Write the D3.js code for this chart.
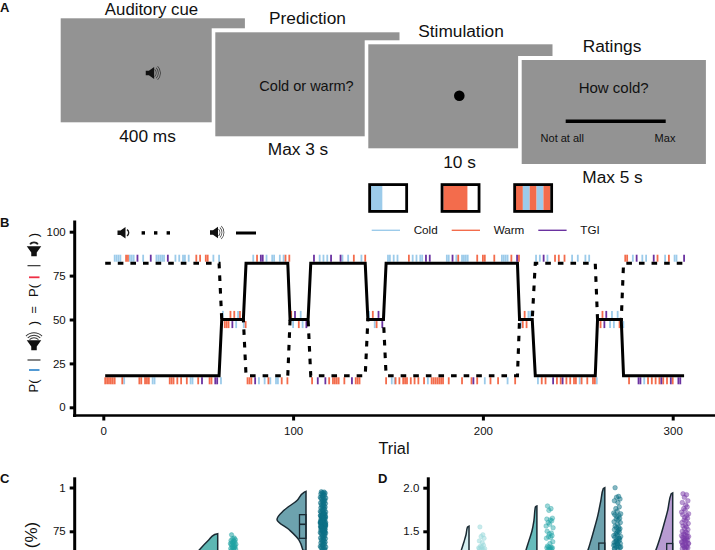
<!DOCTYPE html>
<html><head><meta charset="utf-8">
<script src="https://cdn.jsdelivr.net/npm/d3@7"></script>
<style>html,body{margin:0;padding:0;background:#fff;overflow:hidden}svg{display:block}text{font-family:"Liberation Sans",Arial,sans-serif;fill:#111}</style>
</head><body><div id="c"></div>
<script>
// ---- Panel A
const screenLabels = ["Auditory cue","Prediction","Stimulation","Ratings"];
const durations = ["400 ms","Max 3 s","10 s","Max 5 s"];
// ---- Panel B
const legendNames = ["Cold","Warm","TGI"];
const xTicks = [0,100,200,300];
const yTicksB = [0,25,50,75,100];
const phaseTrials = [1,61,62.4,73.8,75.2,97.2,98.4,107.9,109.3,138,139.4,147.6,149,218.2,219.3,226,227.6,259.2,260.4,272.9,274.1,306];
const solidLevels = [18,18,50,50,82,82,50,50,82,82,50,50,82,82,50,50,18,18,50,50,18,18];
const dashedLevels = [82,82,50,50,18,18,50,50,18,18,50,50,18,18,50,50,82,82,50,50,82,82];
const coldHigh = [6,7,8,9,14,15,16,21,28,29,30,31,32,38,40,42,43,45,58,61,63,71,79,86,89,90,93,95,104,114,116,118,126,129,136,140,148,150,151,153,155,163,165,167,168,181,182,186,189,190,191,192,210,211,212,213,224,225,228,230,234,247,250,254,256,268,271,279,284,286,296,301,302];
const warmHigh = [12,13,49,51,54,55,67,69,72,81,96,98,99,108,132,138,142,161,187,197,200,201,206,215,219,222,238,240,243,263,275,276,292,298];
const tgiHigh = [18,25,34,83,84,101,111,120,125,145,170,172,184,218,232,265,281,290,306];
const coldLow = [11,26,27,46,47,62,70,74,82,85,88,91,92,100,105,143,152,153.5,171,201,213,220,226,229,251,260,267,269,274,285];
const warmLow = [1,2,3,4,5,6,10,19,20,22,23,24,35,36,37,39,41,44,50,56,57,64,65,66,75,76,77,78,87,94,97,103,110,119,121,122,123,124,127,133,134,135,144,149,154,156,158,159,160,162,164,166,169,173,174,175,176,177,178,179,182,189,194,197,204,208,217,221,223,231,233,239,241,244,246,248,249,252,255,258,259,262,272,277,287,289,291,293,295,297,300];
const tgiLow = [52,59,60,68,80,107,113,117,131,147,195,237,242,264,282,283,294,299,303,304];
// ---- Panel C
const accTicks = [100,75];
const accTickLabels = ["1","75"];
const violinC1Val = [73.6,73.2,70,64,60];
const violinC1Den = [0,3,9,19,25];
const violinC2Val = [97.8,97.2,92.6,87,81.8,76,70,64];
const violinC2Den = [0,2,9,22,29,17,7,3];
const pointsC1 = [73,71.2,70.8,70.2,69.8,69.5,69,68.7,68.3,68,67.6,67.2,66.9,66.6,66.2,65.9,65.5,65.2,64.8,64.4,64];
const pointsC2 = [97.6,97.4,97,96.8,96.4,96,95.6,95.2,94.8,94.4,94,93.6,93.2,92.8,92.4,92,91.6,91.2,90.8,90.4,90,89.6,89.2,88.8,88.4,88,87.6,87.2,86.8,86.4,86,85.7,85.4,85.1,84.8,84.5,84.2,83.9,83.6,83.3,83,82.7,82.4,82.1,81.8,81.5,81.2,80.9,80.6,80.3,80,79.7,79.4,79.1,78.8,78.5,78.2,77.9,77.6,77.3,77,76.7,76.4,76.1,75.8,75.5,75.2,74.9,74.6,74.3,74,73.6,73.2,72.8,72.4,72,71.6,71.2,70.8,70.4,70,69.6,69.2,68.8,68.4,68,67.6,67.2,66.8,66.4,66,65.6,65.2,64.8,64.4,64,85,84,83,82,81,80,79,78,77,76,75,81.4,80.8,79.6,78.6,77.8,76.8,75.6,74.4,83.4,82.6,80.2,79.2];
const boxC2 = [84.5,71];
const medianC2 = 79;
// ---- Panel D
const ratioTicks = [2,1.5];
const violinD1Val = [1.56,1.55,1.46,1.38,1.29,1.2];
const violinD1Den = [0,1.5,3,5,7.5,10];
const violinD2Val = [1.79,1.78,1.62,1.5,1.39,1.28,1.2];
const violinD2Den = [0,1.5,3,5,8,11,13];
const violinD3Val = [2,1.99,1.85,1.68,1.51,1.39,1.28,1.2];
const violinD3Den = [0,1.5,4,7,11,14,17,20];
const violinD4Val = [1.94,1.93,1.74,1.57,1.45,1.28,1.2];
const violinD4Den = [0,1.5,5,9,12,17,20];
const pointsD1 = [1.55,1.46,1.44,1.42,1.39,1.37,1.34,1.33,1.32,1.31,1.3,1.3,1.29,1.29];
const pointsD2 = [1.79,1.76,1.74,1.65,1.64,1.63,1.62,1.6,1.58,1.56,1.54,1.5,1.48,1.47,1.45,1.44,1.43,1.42,1.38,1.36,1.33,1.32,1.32,1.31,1.31,1.3,1.3,1.29,1.29];
const pointsD3 = [2,1.9,1.89,1.87,1.85,1.83,1.78,1.76,1.73,1.71,1.7,1.69,1.68,1.67,1.65,1.64,1.63,1.61,1.6,1.58,1.56,1.55,1.54,1.53,1.52,1.5,1.49,1.47,1.46,1.45,1.44,1.43,1.42,1.41,1.4,1.39,1.38,1.37,1.36,1.35,1.34,1.33,1.32,1.31,1.3,1.29,1.42,1.38,1.36,1.34,1.32,1.3,1.52,1.48];
const pointsD4 = [1.93,1.92,1.89,1.85,1.83,1.8,1.78,1.76,1.74,1.72,1.7,1.69,1.68,1.66,1.65,1.63,1.62,1.6,1.59,1.57,1.56,1.55,1.53,1.52,1.5,1.49,1.48,1.47,1.46,1.45,1.44,1.43,1.42,1.41,1.4,1.39,1.38,1.37,1.36,1.35,1.34,1.33,1.32,1.31,1.3,1.29,1.44,1.42,1.4,1.38,1.36,1.34,1.32,1.3];
const jitter = [-3,2,-1,4,-4,1,3,-2,0,-5,5,-3.5,2.5,-0.5,3.5,-1.5,1.5,-4.5,4.5,0.5];

const COLD="#9ccbea",WARM="#f36c4c",TGI="#6a32a0",GREY="#939393";
const svg=d3.select("#c").append("svg").attr("width",715).attr("height",550);
const txt=(x,y,s,size,anchor="middle",weight="normal",par=svg)=>par.append("text").attr("x",x).attr("y",y).attr("font-size",size).attr("text-anchor",anchor).attr("font-weight",weight).text(s);

function speaker(cx,cy,scale,rot,waves,dome){
  const g=svg.append("g").attr("transform",`translate(${cx},${cy}) rotate(${rot}) scale(${scale})`);
  g.append("path").attr("d","M-5,-2.2 H-2 L3,-5.8 V5.8 L-2,2.2 H-5 Z").attr("fill","#111");
  if(waves)[5,7,9].forEach(r=>g.append("path").attr("d",d3.arc()({innerRadius:r-.35,outerRadius:r+.35,startAngle:Math.PI/2-.8,endAngle:Math.PI/2+.8})).attr("fill","#333"));
  if(dome)g.append("path").attr("d",d3.arc()({innerRadius:3,outerRadius:4.4,startAngle:Math.PI/2-1,endAngle:Math.PI/2+1})).attr("transform","translate(2.5,0)").attr("fill","#222");
}

// ---- Panel A
const screens=[[60.7,18.3],[215.3,32.3],[368.3,44.3],[521.7,60]];
screens.forEach(([x,y],i)=>{
  if(i>0)svg.append("rect").attr("x",x-3.6).attr("y",y-4).attr("width",188).attr("height",108).attr("fill","#fff");
  svg.append("rect").attr("x",x).attr("y",y).attr("width",184.2).attr("height",104).attr("fill",GREY);
});
[[151.5,15.4,0],[307.5,24,1],[461,37,2],[612,52,3]].forEach(([x,y,i])=>txt(x,y,screenLabels[i],i===0?16.8:17.3));
[[147.5,142,0],[298,155,1],[459.6,167.7,2],[612.5,183,3]].forEach(([x,y,i])=>txt(x,y,durations[i],17.3));
speaker(151,73,1.05,0,true,false);
txt(306.5,90.7,"Cold or warm?",14.5);
svg.append("circle").attr("cx",459.3).attr("cy",95.7).attr("r",5.3).attr("fill","#000");
txt(613.7,93.3,"How cold?",15);
svg.append("line").attr("x1",565.7).attr("x2",665.7).attr("y1",121.3).attr("y2",121.3).attr("stroke","#000").attr("stroke-width",3.4);
txt(562.3,142,"Not at all",11);txt(665,142,"Max",11);

// stimulation thermode boxes
const boxes=[[368.3,[[0,.33,COLD]]],[440.7,[[0,.7,WARM]]],[513.3,[[0,.2,WARM],[.2,.2,COLD],[.4,.2,WARM],[.6,.2,COLD],[.8,.2,WARM]]]];
boxes.forEach(([x,parts])=>{
  const bw=39.7,bh=29.5,inW=bw-5.4;
  svg.append("rect").attr("x",x+1.35).attr("y",184.6).attr("width",bw-2.7).attr("height",bh-2.7).attr("fill","#fff");
  parts.forEach(([a,w,c])=>svg.append("rect").attr("x",x+2.7+a*inW).attr("y",185.5).attr("width",w*inW).attr("height",bh-4.7).attr("fill",c));
  svg.append("rect").attr("x",x+1.35).attr("y",184.6).attr("width",bw-2.7).attr("height",bh-2.7).attr("fill","none").attr("stroke","#000").attr("stroke-width",2.8);
});

// ---- Panel B
const xB=d3.scaleLinear().domain([0,300]).range([103.3,672.7]);
const yB=d3.scaleLinear().domain([0,100]).range([407.3,231.7]);
const axisLeft=(y,x,ticks,fmt,top,bottom)=>{
  const g=svg.append("g").attr("transform",`translate(${x},0)`).call(d3.axisLeft(y).tickValues(ticks).tickFormat(fmt).tickSize(5).tickPadding(4).tickSizeOuter(0));
  g.select(".domain").remove();
  g.selectAll(".tick line").attr("stroke","#000").attr("stroke-width",3);
  g.selectAll(".tick text").attr("font-size",11.5).attr("font-family",'"Liberation Sans",Arial,sans-serif').attr("fill","#111");
  svg.append("line").attr("x1",x).attr("x2",x).attr("y1",top).attr("y2",bottom).attr("stroke","#000").attr("stroke-width",3);
};
axisLeft(yB,74.7,yTicksB,d3.format("d"),220.5,417);
const gx=svg.append("g").attr("transform","translate(0,415.5)").call(d3.axisBottom(xB).tickValues(xTicks).tickFormat(d3.format("d")).tickSize(5).tickPadding(6).tickSizeOuter(0));
gx.select(".domain").remove();
gx.selectAll(".tick line").attr("stroke","#000").attr("stroke-width",3);
gx.selectAll(".tick text").attr("font-size",11.5).attr("font-family",'"Liberation Sans",Arial,sans-serif').attr("fill","#111");
svg.append("line").attr("x1",73).attr("x2",715).attr("y1",415.5).attr("y2",415.5).attr("stroke","#000").attr("stroke-width",2.4);
txt(394,454,"Trial",16.3);

// rug ticks sit on whichever of the two probability lines is upper or lower at that trial
const interp=(lv,t)=>{const i=Math.max(0,d3.bisectRight(phaseTrials,t)-1);return lv[i];};
const rug=(trials,color,high)=>svg.append("g").selectAll("line").data(trials).join("line")
  .attr("x1",d=>xB(d)).attr("x2",d=>xB(d))
  .attr("y1",d=>{const v=high?Math.max(interp(solidLevels,d),interp(dashedLevels,d)):Math.min(interp(solidLevels,d),interp(dashedLevels,d));return yB(v)+(high?-1.6:1.6);})
  .attr("y2",d=>{const v=high?Math.max(interp(solidLevels,d),interp(dashedLevels,d)):Math.min(interp(solidLevels,d),interp(dashedLevels,d));return yB(v)+(high?-8.6:8.6);})
  .attr("stroke",color).attr("stroke-width",1.8);
rug(coldHigh,COLD,true);rug(coldLow,COLD,false);
rug(warmHigh,WARM,true);rug(warmLow,WARM,false);
rug(tgiHigh,TGI,true);rug(tgiLow,TGI,false);

const line=lv=>d3.line().x(d=>xB(d)).y((d,i)=>yB(lv[i]))(phaseTrials);
svg.append("path").attr("d",line(dashedLevels)).attr("fill","none").attr("stroke","#000").attr("stroke-width",3.1).attr("stroke-dasharray","5.6 7");
svg.append("path").attr("d",line(solidLevels)).attr("fill","none").attr("stroke","#000").attr("stroke-width",3);

// cue key
speaker(122.5,232.8,1,0,false,true);
[143.3,155.7,168.3].forEach(x=>svg.append("rect").attr("x",x-1.7).attr("y",231.2).attr("width",3.4).attr("height",3.4).attr("fill","#000"));
speaker(215,232.5,1,0,true,false);
svg.append("line").attr("x1",236).attr("x2",256).attr("y1",233).attr("y2",233).attr("stroke","#000").attr("stroke-width",3);

// colour key
[[371.7,COLD,425.7],[451.7,WARM,509],[538.3,TGI,590]].forEach(([x,c,tx],i)=>{
  svg.append("line").attr("x1",x).attr("x2",x+28.3).attr("y1",230.3).attr("y2",230.3).attr("stroke",c).attr("stroke-width",1.4);
  txt(tx,234.3,legendNames[i],11.7);
});

// rotated y label
const rotText=(y,s,size=13)=>svg.append("text").attr("transform",`translate(37.5,${y}) rotate(-90)`).attr("font-size",size).attr("text-anchor","middle").text(s);
rotText(386,"P(");rotText(323,")");rotText(310,"=");rotText(290.5,"P(");rotText(235,")");
const bar=(y,x0,x1,c,w)=>svg.append("line").attr("x1",x0).attr("x2",x1).attr("y1",y).attr("y2",y).attr("stroke",c).attr("stroke-width",w);
bar(360,27.5,40.5,"#222",1.1);bar(370,29,39.5,"#3f8fd0",1.8);bar(265.7,27.5,40.5,"#222",1.1);bar(277.3,29,39.5,"#ef2f45",1.8);
speaker(34,344,1.25,-90,true,false);speaker(34,250,1.25,-90,false,true);

// panel letters
[["A",0,11.8],["B",0,227],["C",0,483],["D",378,483]].forEach(([s,x,y])=>txt(x,y,s,13,"start","bold"));

// ---- Panel C
const yC=d3.scaleLinear().domain([75,100]).range([531.3,487.5]);
axisLeft(yC,74.7,accTicks,(d,i)=>accTickLabels[accTicks.indexOf(d)],477.3,550);
svg.append("text").attr("transform","translate(37,535) rotate(-90)").attr("font-size",17).attr("text-anchor","middle").text("(%)");

const violin=(edge,y,vals,dens,fill)=>{
  const area=d3.area().curve(d3.curveMonotoneY).y((d,i)=>y(d)).x0(edge).x1((d,i)=>edge-dens[i]);
  svg.append("path").attr("d",area(vals)).attr("fill",fill).attr("stroke","#1a2a33").attr("stroke-width",1.5);
};
const dots=(cx,y,vals,color,op,spread,r)=>svg.append("g").selectAll("circle").data(vals).join("circle")
  .attr("cx",(d,i)=>cx+spread*jitter[i%jitter.length]).attr("cy",d=>y(d)).attr("r",r)
  .attr("fill",color).attr("fill-opacity",op).attr("stroke",color).attr("stroke-opacity",op).attr("stroke-width",.7);

const xC=d3.scaleOrdinal().domain(["b","c"]).range([217.7,306]);
violin(xC("b"),yC,violinC1Val,violinC1Den,"#5db7b3");
violin(xC("c"),yC,violinC2Val,violinC2Den,"#6da2ae");
svg.append("rect").attr("x",xC("c")-6.5).attr("y",yC(boxC2[0])).attr("width",6.5).attr("height",yC(boxC2[1])-yC(boxC2[0])).attr("fill","none").attr("stroke","#1a2a33").attr("stroke-width",1.3);
svg.append("line").attr("x1",xC("c")-6.5).attr("x2",xC("c")).attr("y1",yC(medianC2)).attr("y2",yC(medianC2)).attr("stroke","#1a2a33").attr("stroke-width",1.6);
dots(xC("b")+15.5,yC,pointsC1,"#1fa3a3",.55,.55,2.2);
dots(xC("c")+17,yC,pointsC2,"#0b6f85",.6,.55,2.2);

// ---- Panel D
const yD=d3.scaleLinear().domain([1.5,2]).range([531.3,487.7]);
axisLeft(yD,428.3,ratioTicks,d3.format(".1f"),477.3,550);
const xD=d3.scaleLinear().domain([0,3]).range([469,672.7]);
violin(xD(0),yD,violinD1Val,violinD1Den,"#d3eef0");
violin(xD(1),yD,violinD2Val,violinD2Den,"#66bcbc");
violin(xD(2),yD,violinD3Val,violinD3Den,"#6da2ae");
violin(xD(3),yD,violinD4Val,violinD4Den,"#b79bd2");
[[2,1.365],[3,1.36]].forEach(([i,v])=>svg.append("rect").attr("x",xD(i)-6).attr("y",yD(v)).attr("width",6).attr("height",30).attr("fill","none").attr("stroke","#1a2a33").attr("stroke-width",1.3));
dots(xD(0)+12.7,yD,pointsD1,"#9fdadd",.55,.6,2.2);
dots(xD(1)+12.7,yD,pointsD2,"#21a3a6",.45,.7,2.3);
dots(xD(2)+12.4,yD,pointsD3,"#0b6f85",.5,.7,2.3);
dots(xD(3)+12.4,yD,pointsD4,"#7a3ba8",.5,.7,2.3);
</script></body></html>
